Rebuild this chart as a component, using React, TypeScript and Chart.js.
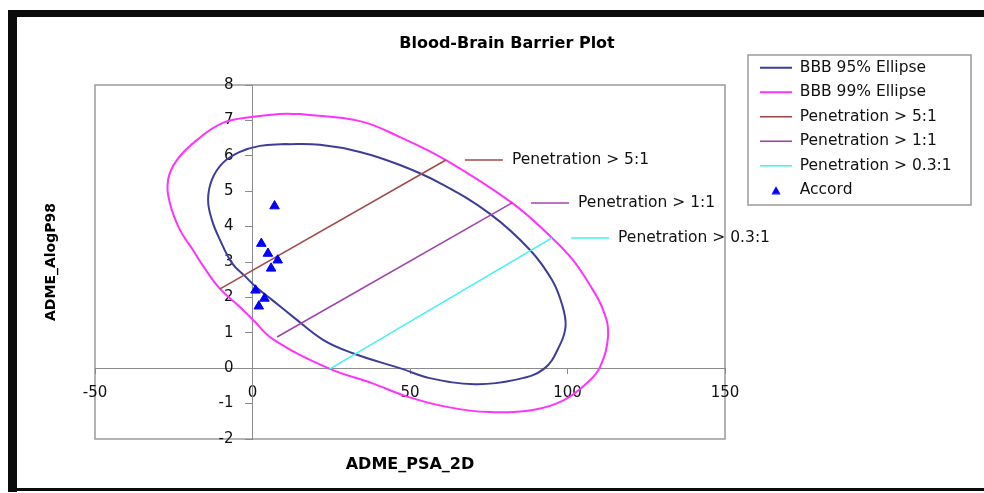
import React, { useEffect, useRef } from "react";
import { Chart, registerables } from "chart.js";

Chart.register(...registerables);

// ---------- data ----------
const chartTitle = "Blood-Brain Barrier Plot";
const xAxisTitle = "ADME_PSA_2D";
const yAxisTitle = "ADME_AlogP98";

const xTickValues = [-50, 0, 50, 100, 150];
const yTickValues = [-2, -1, 0, 1, 2, 3, 4, 5, 6, 7, 8];

const seriesNames = [
  "BBB 95% Ellipse",
  "BBB 99% Ellipse",
  "Penetration > 5:1",
  "Penetration > 1:1",
  "Penetration > 0.3:1",
  "Accord",
];

const seriesColors = ["#3d3d99", "#ff33ff", "#a34a4a", "#a044ac", "#44f2f2", "#0000ff"];

const ellipse95X = [10.3, 21.4, 34.1, 46.8, 59.5, 75.4, 88.1, 95.1, 98.3, 99.4, 97.6, 92.5, 83.3, 70.6, 56.3, 47.5, 31.6, 22.4, 12.9, 6.2, 1.4, -2.4, -6.5, -10.3, -12.9, -14.1, -12.9, -9.4, -4.0, 2.4, 10.3];
const ellipse95Y = [6.33, 6.31, 6.11, 5.74, 5.23, 4.36, 3.34, 2.49, 1.79, 1.2, 0.66, -0.02, -0.33, -0.45, -0.28, -0.02, 0.43, 0.8, 1.45, 1.93, 2.27, 2.6, 2.97, 3.62, 4.19, 4.75, 5.32, 5.8, 6.11, 6.28, 6.33];

const ellipse99X = [15.1, 34.1, 46.8, 61.4, 82.4, 95.1, 101.7, 107.1, 111.3, 112.9, 110.3, 106.2, 98.9, 89.0, 75.1, 62.1, 49.4, 37.9, 24.6, 6.8, 0.2, -4.0, -10.3, -15.7, -18.9, -23.0, -26.2, -26.8, -24.0, -17.6, -9.4, 0.2, 8.7, 15.1];
const ellipse99Y = [7.18, 6.98, 6.53, 5.88, 4.67, 3.68, 3.06, 2.35, 1.65, 0.94, 0.03, -0.42, -0.9, -1.18, -1.24, -1.1, -0.81, -0.42, -0.02, 0.8, 1.36, 1.73, 2.24, 2.89, 3.34, 3.9, 4.66, 5.32, 5.88, 6.45, 6.93, 7.1, 7.18, 7.18];

const pen5X = [-10.3, 61.4];
const pen5Y = [2.24, 5.88];
const pen1X = [7.8, 82.4];
const pen1Y = [0.88, 4.67];
const pen03X = [24.6, 95.1];
const pen03Y = [-0.02, 3.68];

const accordX = [7.0, 2.8, 4.9, 8.0, 5.9, 0.95, 3.8, 2.0];
const accordY = [4.58, 3.52, 3.24, 3.05, 2.82, 2.2, 1.97, 1.75];

// ---------- helpers ----------
const FONT = "'DejaVu Sans', 'Liberation Sans', sans-serif";
const toPoints = (xs: number[], ys: number[]) => xs.map((x, i) => ({ x, y: ys[i] }));

const LEGEND_BOX = { left: 748, top: 55, width: 223, height: 150 };

const decorPlugin = {
  id: "decor",
  afterLayout(chart: any) {
    const lg = chart.legend;
    if (lg) {
      lg.left = LEGEND_BOX.left + 3;
      lg.top = LEGEND_BOX.top - 4;
      lg.right = 984;
      lg.bottom = 240;
      lg.width = lg.right - lg.left;
      lg.height = lg.bottom - lg.top;
    }
  },
  beforeDraw(chart: any) {
    const ctx = chart.ctx;
    ctx.save();
    ctx.fillStyle = "#ffffff";
    ctx.fillRect(0, 0, chart.width, chart.height);
    ctx.fillStyle = "#0b0b0b";
    ctx.fillRect(8, 10, chart.width - 8, 7);
    ctx.fillRect(8, 10, 9, chart.height - 11);
    ctx.fillRect(8, chart.height - 5, chart.width - 8, 3);
    const a = chart.chartArea;
    ctx.strokeStyle = "#9a9a9a";
    ctx.lineWidth = 1.5;
    ctx.strokeRect(a.left, a.top, a.right - a.left, a.bottom - a.top);
    ctx.strokeRect(LEGEND_BOX.left, LEGEND_BOX.top, LEGEND_BOX.width, LEGEND_BOX.height);
    ctx.restore();
  },
  afterDatasetsDraw(chart: any) {
    const ctx = chart.ctx;
    ctx.save();
    [2, 3, 4].forEach((i) => {
      const meta = chart.getDatasetMeta(i);
      const pt = meta.data[meta.data.length - 1];
      const ds = chart.data.datasets[i];
      const x = pt.x;
      const y = pt.y;
      ctx.strokeStyle = ds.borderColor;
      ctx.lineWidth = 1.5;
      ctx.beginPath();
      ctx.moveTo(x + 19, y);
      ctx.lineTo(x + 57, y);
      ctx.stroke();
      ctx.fillStyle = "#111";
      ctx.font = `15.5px ${FONT}`;
      ctx.textBaseline = "middle";
      ctx.textAlign = "left";
      ctx.fillText(ds.label, x + 66, y);
    });
    ctx.restore();
  },
};

export default function App() {
  const canvasRef = useRef<HTMLCanvasElement>(null);

  useEffect(() => {
    // small triangle marker used as the legend key of the Accord series
    const tri = document.createElement("canvas");
    tri.width = 10;
    tri.height = 9;
    const tctx = tri.getContext("2d");
    if (tctx) {
      tctx.fillStyle = seriesColors[5];
      tctx.beginPath();
      tctx.moveTo(5, 0.5);
      tctx.lineTo(9.5, 8.5);
      tctx.lineTo(0.5, 8.5);
      tctx.closePath();
      tctx.fill();
    }

    const lineDs = (idx: number, xs: number[], ys: number[], width: number, tension: number, order: number) => ({
      type: "scatter" as const,
      label: seriesNames[idx],
      data: toPoints(xs, ys),
      showLine: true,
      borderColor: seriesColors[idx],
      backgroundColor: seriesColors[idx],
      borderWidth: width,
      pointRadius: 0,
      pointHoverRadius: 0,
      pointStyle: "line",
      tension,
      order,
      xAxisID: "x",
      yAxisID: "y",
    });

    const chart = new Chart(canvasRef.current as HTMLCanvasElement, {
      type: "scatter",
      data: {
        datasets: [
          lineDs(0, ellipse95X, ellipse95Y, 2, 0.4, 3),
          lineDs(1, ellipse99X, ellipse99Y, 2, 0.4, 3),
          lineDs(2, pen5X, pen5Y, 1.6, 0, 2),
          lineDs(3, pen1X, pen1Y, 1.6, 0, 2),
          lineDs(4, pen03X, pen03Y, 1.6, 0, 2),
          {
            label: seriesNames[5],
            data: toPoints(accordX, accordY),
            showLine: false,
            pointStyle: "triangle",
            pointRadius: 5.5,
            pointBorderWidth: 1,
            borderColor: seriesColors[5],
            backgroundColor: seriesColors[5],
            order: 0,
            xAxisID: "x",
            yAxisID: "y",
          },
        ],
      },
      options: {
        animation: false,
        responsive: true,
        maintainAspectRatio: false,
        devicePixelRatio: 1,
        events: [],
        layout: { padding: { left: 30, right: 0, top: 10, bottom: 54 } },
        plugins: {
          title: {
            display: true,
            text: chartTitle,
            color: "#000",
            font: { family: FONT, size: 16, weight: "bold" },
            padding: { top: 24.4, bottom: 31.4 },
          },
          legend: {
            display: true,
            position: "chartArea",
            align: "start",
            labels: {
              usePointStyle: true,
              pointStyleWidth: 32,
              boxHeight: 7.5,
              padding: 9,
              color: "#111",
              font: { family: FONT, size: 15.5 },
              sort: (a: any, b: any) => a.datasetIndex - b.datasetIndex,
              generateLabels: (c: any) => {
                const items = (Chart as any).defaults.plugins.legend.labels.generateLabels(c);
                items.forEach((it: any) => {
                  if (it.datasetIndex === 5) it.pointStyle = tri;
                });
                return items;
              },
            },
          },
          tooltip: { enabled: false },
        },
        scales: {
          x: {
            type: "linear",
            position: { y: 0 },
            min: -50,
            max: 150,
            afterBuildTicks: (s: any) => {
              s.ticks = xTickValues.map((v) => ({ value: v }));
            },
            ticks: { font: { family: FONT, size: 15 }, color: "#111", padding: 11, maxRotation: 0, autoSkip: false },
            grid: { drawOnChartArea: false, tickLength: 5, color: "#8c8c8c", lineWidth: 1 },
            border: { color: "#8c8c8c", width: 1 },
            title: {
              display: true,
              text: xAxisTitle,
              color: "#000",
              font: { family: FONT, size: 16, weight: "bold" },
              padding: { top: 4, bottom: 4 },
            },
            afterFit: (s: any) => {
              s.height = 110.4;
            },
          },
          y: {
            type: "linear",
            position: { x: 0 },
            min: -2,
            max: 8,
            afterBuildTicks: (s: any) => {
              s.ticks = yTickValues.map((v) => ({ value: v }));
            },
            ticks: {
              font: { family: FONT, size: 15 },
              color: "#111",
              padding: 5,
              autoSkip: false,
              // keep the label clear of the tick mark (labels of a crossing axis are right-aligned on it)
              callback: (v: any) => `${v}    `,
            },
            grid: { drawOnChartArea: false, tickLength: 7, color: "#8c8c8c", lineWidth: 1 },
            border: { color: "#8c8c8c", width: 1 },
          },
          yt: {
            type: "linear",
            position: "left",
            min: 0,
            max: 1,
            ticks: { display: false },
            grid: { display: false },
            border: { display: false },
            title: {
              display: true,
              text: yAxisTitle,
              color: "#000",
              font: { family: FONT, size: 14, weight: "bold" },
              padding: { top: 13, bottom: 0 },
            },
            afterFit: (s: any) => {
              s.width = 65;
            },
          },
          yr: {
            type: "linear",
            position: "right",
            min: 0,
            max: 1,
            ticks: { display: false },
            grid: { display: false },
            border: { display: false },
            afterFit: (s: any) => {
              s.width = 259;
            },
          },
        },
      } as any,
      plugins: [decorPlugin],
    } as any);

    return () => chart.destroy();
  }, []);

  return (
    <div style={{ position: "absolute", left: 0, top: 0, width: 984, height: 493, background: "#fff" }}>
      <canvas ref={canvasRef} />
    </div>
  );
}
